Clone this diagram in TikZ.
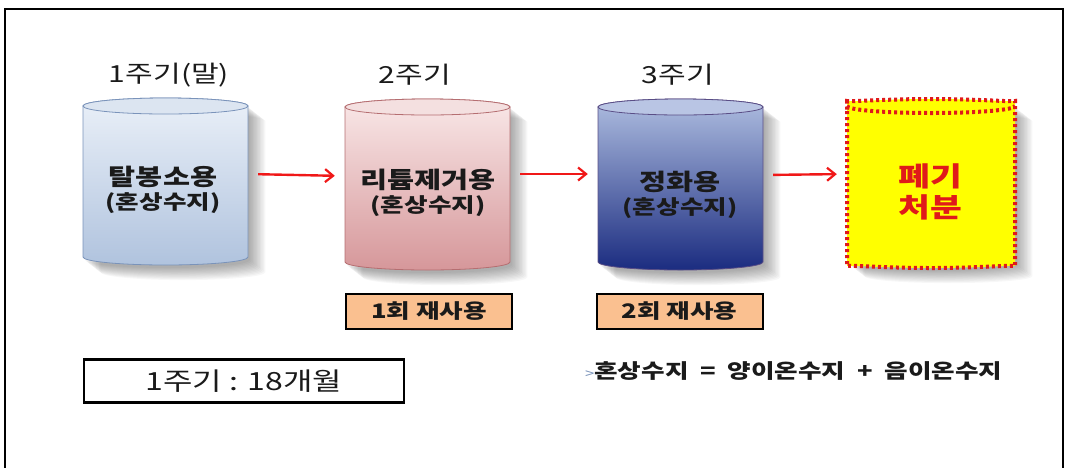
\documentclass[tikz,border=0pt]{standalone}
\usepackage{fontspec}
\setmainfont{Noto Sans CJK KR}[FakeStretch=1.28]
\usetikzlibrary{arrows.meta}
\definecolor{cAtop}{HTML}{EAF0F8}
\definecolor{cAbot}{HTML}{B0C3DE}
\definecolor{cAbd}{HTML}{7A93BA}
\definecolor{cAcap}{HTML}{DCE5F1}
\definecolor{cBtop}{HTML}{F9E8E8}
\definecolor{cBbot}{HTML}{D6979A}
\definecolor{cBbd}{HTML}{B56E71}
\definecolor{cBcap}{HTML}{F4E0E0}
\definecolor{cCtop}{HTML}{AEBDE0}
\definecolor{cCmid}{HTML}{4A63AA}
\definecolor{cCbot}{HTML}{1B2C80}
\definecolor{cCbd}{HTML}{5A4E86}
\definecolor{cCcap}{HTML}{B9C5E4}
\definecolor{peach}{HTML}{FAC090}
\definecolor{arrred}{HTML}{F01818}
\definecolor{dotred}{HTML}{E01A1A}
\definecolor{yel}{HTML}{FFFF00}
\definecolor{txt}{HTML}{1A1A1A}
% outline of a cylinder body: centre x, top y, bottom y, half width, end radius
\newcommand\cylpath[5]{(#1-#4,#2) -- (#1-#4,#3)
    arc[start angle=180,end angle=360,x radius=#4pt,y radius=#5pt]
    -- (#1+#4,#2)
    arc[start angle=0,end angle=180,x radius=#4pt,y radius=#5pt] -- cycle}
\newcommand\softshadow[5]{%
  \foreach \i in {0,...,11}{%
    \path[fill=black,fill opacity=0.032,shift={(2+1.4*\i,3+1.1*\i)}] \cylpath{#1}{#2}{#3}{#4}{#5};
  }%
}
\newcommand\drawcyl[5]{%
  \softshadow{#1}{#2}{#3}{82.5}{8}
  \path[#4] \cylpath{#1}{#2}{#3}{82.5}{8};
  \path[#5] (#1,#2) ellipse[x radius=82.5pt,y radius=8pt];
}
\tikzset{
  toplabel/.style={font=\fontsize{23.5}{26}\selectfont,text=txt,inner sep=0pt},
  cyltext/.style={font=\bfseries\fontsize{23}{28}\selectfont,text=txt,align=center,inner sep=0pt},
  body/.style={inner sep=0pt,minimum width=165pt,minimum height=150pt},
  flow/.style={draw=arrred,line width=2.4pt,-{Straight Barb[length=8pt,width=13pt,line width=2.2pt]},shorten <=10pt,shorten >=10pt},
  reuse/.style={draw=black,line width=2pt,fill=peach,minimum width=166pt,minimum height=35pt,font=\bfseries\fontsize{20}{22}\selectfont,text=txt,inner sep=0pt},
}
\begin{document}
\begin{tikzpicture}[x=1pt,y=-1pt]
\useasboundingbox (0,0) rectangle (1066,467);
% frame
\draw[line width=2.5pt] (5,470) -- (5,9) -- (1063,9) -- (1063,470);
% cylinders
\drawcyl{165.5}{106}{257}{draw=cAbd,line width=0.8pt,top color=cAtop,bottom color=cAbot}{draw=cAbd,line width=0.8pt,fill=cAcap}
\drawcyl{427.5}{107}{262}{draw=cBbd,line width=0.8pt,top color=cBtop,bottom color=cBbot}{draw=cBbd,line width=0.8pt,fill=cBcap}
\drawcyl{680.5}{107}{262}{draw=cCbd,line width=0.8pt,top color=cCtop,middle color=cCmid,bottom color=cCbot}{draw=cCbd,line width=0.8pt,fill=cCcap}
% yellow cylinder
\softshadow{931}{106}{261}{84}{7}
\path[fill=yel,rounded corners=5pt] \cylpath{931}{106}{261}{84}{7};
\draw[dotred,line width=4pt,dash pattern=on 3pt off 3pt,rounded corners=5pt] \cylpath{931}{106}{261}{84}{7};
\draw[dotred,line width=4pt,dash pattern=on 3pt off 3pt] (847,106)
    arc[start angle=180,end angle=360,x radius=84pt,y radius=7pt];
% body nodes (for connectors)
\node[body] (c1) at (165.5,182) {};
\node[body] (c2) at (427.5,184) {};
\node[body] (c3) at (680.5,184) {};
\node[body,minimum width=168pt] (c4) at (931,183) {};
% labels above
\node[toplabel] (l1) at (169,75) {1주기(말)};
\node[toplabel] (l2) at (415,75) {2주기};
\node[toplabel] (l3) at (678,75) {3주기};
% cylinder texts
\node[cyltext] (t1) at (163,190) {탈봉소용\\[-4pt]{\fontsize{20}{22}\selectfont(혼상수지)}};
\node[cyltext] (t2) at (428,193) {리튬제거용\\[-4pt]{\fontsize{20}{22}\selectfont(혼상수지)}};
\node[cyltext] (t3) at (680,195) {정화용\\[-4pt]{\fontsize{20}{22}\selectfont(혼상수지)}};
\node[cyltext,text=dotred,font=\bfseries\fontsize{27}{31}\selectfont] (t4) at (930,192) {폐기\\처분};
% arrows
\draw[flow] ([yshift=8pt]c1.east) -- ([yshift=8pt]c2.west);
\draw[flow] ([yshift=10pt]c2.east) -- ([yshift=10pt]c3.west);
\draw[flow] ([yshift=9pt]c3.east) -- ([yshift=9pt]c4.west);
% reuse boxes
\node[reuse] (r1) at (429,311) {1회 재사용};
\node[reuse] (r2) at (679.5,311) {2회 재사용};
% cycle box
\node[draw=black,line width=2.5pt,minimum width=320pt,minimum height=43pt,inner sep=0pt,font=\fontsize{25}{28}\selectfont,text=txt] (cyc) at (244,381) {1주기 : 18개월};
% formula
\node[anchor=west,inner sep=0pt,font=\bfseries\fontsize{20}{22}\selectfont,text=txt] (f) at (585,371) {{\color{cAbd}\mdseries\fontsize{13}{14}\selectfont >}혼상수지\ \ =\ \ 양이온수지\ \ +\ \ 음이온수지};
\end{tikzpicture}
\end{document}
